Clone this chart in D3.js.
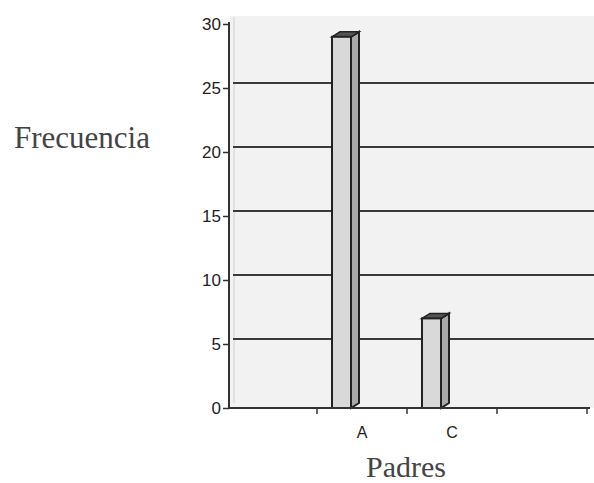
<!DOCTYPE html>
<html><head><meta charset="utf-8">
<script src="https://cdn.jsdelivr.net/npm/d3@7"></script>
<style>body{margin:0;background:#fff}svg{display:block}</style>
</head><body>
<script>
const categories = ["A", "C"];
const values = [29, 7];
const yTicks = [0, 5, 10, 15, 20, 25, 30];
const xDomain = ["_left", ...categories, "_right"];

const W = 594, H = 483;
const svg = d3.select("body").append("svg").attr("width", W).attr("height", H);

const y = d3.scaleLinear().domain([0, 30]).range([408, 24]);
const x = d3.scaleBand().domain(xDomain).range([227, 587]).padding(0);
const depthX = 8, depthY = 5, barOffset = 15, barW = 19;

// plot background
svg.append("rect").attr("x", 230).attr("y", 16).attr("width", W - 230).attr("height", 392).attr("fill", "#f2f2f2");
// back wall left edge
svg.append("line").attr("x1", 234).attr("x2", 234).attr("y1", 17).attr("y2", y(0) - depthY)
  .attr("stroke", "#cfcfcf").attr("stroke-width", 1);

// gridlines on back wall
svg.append("g").selectAll("line").data(yTicks.filter(d => d > 0 && d < 30)).join("line")
  .attr("x1", 229 + 4).attr("x2", W)
  .attr("y1", d => y(d) - depthY).attr("y2", d => y(d) - depthY)
  .attr("stroke", "#3a3a3a").attr("stroke-width", 2);

// bars (3D)
const data = categories.map((c, i) => ({ c, v: values[i] }));
const bars = svg.append("g").selectAll("g").data(data).join("g");
bars.each(function (d) {
  const g = d3.select(this);
  const x0 = x(d.c) + barOffset, x1 = x0 + barW;
  const yt = y(d.v), yb = y(0);
  // side
  g.append("path").attr("d", `M${x1},${yb} L${x1},${yt} L${x1 + depthX},${yt - depthY} L${x1 + depthX},${yb - depthY} Z`)
    .attr("fill", "#a9a9a9").attr("stroke", "#222").attr("stroke-width", 2);
  // top
  g.append("path").attr("d", `M${x0},${yt} L${x0 + depthX},${yt - depthY} L${x1 + depthX},${yt - depthY} L${x1},${yt} Z`)
    .attr("fill", "#555").attr("stroke", "#222").attr("stroke-width", 1.5);
  // front
  g.append("rect").attr("x", x0).attr("y", yt).attr("width", barW).attr("height", yb - yt)
    .attr("fill", "#d9d9d9").attr("stroke", "#222").attr("stroke-width", 2);
});

// y axis
const yAxis = d3.axisLeft(y).tickValues(yTicks).tickSize(6).tickPadding(2);
const gy = svg.append("g").attr("transform", "translate(229,0)").call(yAxis);
gy.select(".domain").attr("stroke", "#333").attr("stroke-width", 2).attr("d", `M0,${y(30) - 2}V${y(0)}`);
gy.selectAll(".tick line").attr("stroke", "#333").attr("stroke-width", 1.5);
gy.selectAll(".tick text").attr("font-family", "Liberation Sans, Arial, sans-serif").attr("font-size", 17).attr("fill", "#222");

// x axis
const xAxis = d3.axisBottom(x).tickFormat(d => categories.includes(d) ? d : "").tickSize(0).tickPadding(19);
const gx = svg.append("g").attr("transform", `translate(0,${y(0)})`).call(xAxis);
gx.select(".domain").attr("stroke", "#333").attr("stroke-width", 2).attr("d", `M229,0H590`);
gx.selectAll(".tick text").attr("font-family", "Liberation Sans, Arial, sans-serif").attr("font-size", 16).attr("fill", "#222");
// band boundary ticks
svg.append("g").selectAll("line").data(xDomain).join("line")
  .attr("x1", d => x(d) + x.bandwidth()).attr("x2", d => x(d) + x.bandwidth())
  .attr("y1", y(0)).attr("y2", y(0) + 6)
  .attr("stroke", "#333").attr("stroke-width", 1.5);

// axis titles
svg.append("text").attr("x", 82).attr("y", 148).attr("text-anchor", "middle")
  .attr("font-family", "Liberation Serif, Times New Roman, serif").attr("font-size", 31).attr("fill", "#444")
  .text("Frecuencia");
svg.append("text").attr("x", 406).attr("y", 477).attr("text-anchor", "middle")
  .attr("font-family", "Liberation Serif, Times New Roman, serif").attr("font-size", 30).attr("fill", "#444")
  .text("Padres");
</script>
</body></html>
